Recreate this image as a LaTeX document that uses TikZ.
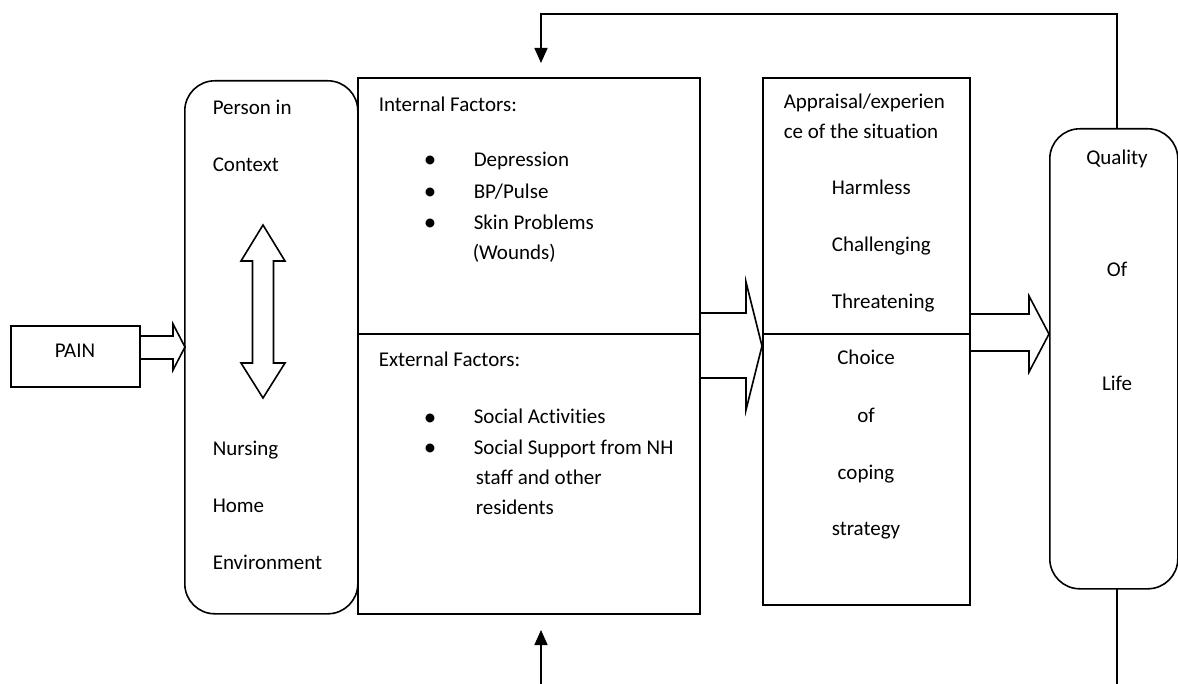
\documentclass[tikz,border=0pt]{standalone}
\usepackage{fontspec}
\setmainfont{Carlito}[Ligatures=CommonOff]
\usetikzlibrary{arrows.meta}
\begin{document}
\begin{tikzpicture}[x=1pt,y=-1pt,line width=1.6pt,
  txt/.style={inner sep=0pt,anchor=base west,font=\fontsize{21}{25}\selectfont},
  ctxt/.style={inner sep=0pt,anchor=base,font=\fontsize{21}{25}\selectfont},
  bul/.style={inner sep=0pt,anchor=base,font=\fontsize{25}{25}\selectfont},
  box/.style={draw,line width=1.6pt,inner sep=0pt,anchor=north west},
  rbox/.style={box,rounded corners=30pt},
  blockarrow/.style={draw,line width=1.6pt,line join=miter},
  feed/.style={line width=1.6pt,-{Triangle[length=15pt,width=13pt]}}]
\useasboundingbox (0,0) rectangle (1178,684);

% boxes
\node[box,minimum width=129pt,minimum height=61pt] (pain) at (10,325) {};
\node[rbox,minimum width=173pt,minimum height=533pt] (person) at (184,80) {};
\node[box,minimum width=342pt,minimum height=536pt] (factors) at (357,77) {};
\node[box,minimum width=207pt,minimum height=527pt] (appraisal) at (762,77) {};
\node[rbox,minimum width=128pt,minimum height=460pt] (quality) at (1049,128) {};

% dividers
\draw (factors.west |- 0,334) -- (factors.east |- 0,334);
\draw (appraisal.west |- 0,334) -- (appraisal.east |- 0,334);

% block arrows
\draw[blockarrow] (139,336) -- (173,336) -- (173,324) -- (185,347) -- (173,370) -- (173,359) -- (139,359);
\draw[blockarrow] (699,313) -- (746,313) -- (746,282) -- (762,346) -- (746,410) -- (746,378) -- (699,378);
\draw[blockarrow] (969,314) -- (1029,314) -- (1029,296) -- (1049,334) -- (1029,372) -- (1029,351) -- (969,351);
\draw[blockarrow] (252.5,261) -- (241,261) -- (263,225) -- (285,261) -- (273.5,261) -- (273.5,363)
  -- (285,363) -- (263,398) -- (241,363) -- (252.5,363) -- cycle;

% feedback connectors
\coordinate (qtop) at (1117,128);
\coordinate (qbot) at (1117,588);
\coordinate (fbtip) at (541,63);
\coordinate (fbtop) at (1117,14);
\coordinate (upstart) at (541,684);
\coordinate (uptip) at (541,630);
\coordinate (botend) at (1117,684);
\draw[feed] (qtop) -- (fbtop) -| (fbtip);
\draw (qbot) -- (botend);
\draw[feed] (upstart) -- (uptip);

% texts
\node[ctxt] (tpain) at (75,358) {PAIN};

\node[txt] (p1) at (212,115) {Person in};
\node[txt] (p2) at (212,172) {Context};
\node[txt] (p3) at (212,455) {Nursing};
\node[txt] (p4) at (212,512) {Home};
\node[txt] (p5) at (212,569) {Environment};

\node[txt] (if) at (378,112) {Internal Factors:};
\node[bul] (b1) at (430,168) {\textbullet};
\node[bul] (b2) at (430,200) {\textbullet};
\node[bul] (b3) at (430,231) {\textbullet};
\node[txt] (i1) at (473,167) {Depression};
\node[txt] (i2) at (473,199) {BP/Pulse};
\node[txt] (i3) at (473,230) {Skin Problems};
\node[txt] (i4) at (472,260) {(Wounds)};

\node[txt] (ef) at (378,367) {External Factors:};
\node[bul] (b4) at (430,425) {\textbullet};
\node[bul] (b5) at (430,455) {\textbullet};
\node[txt] (e1) at (473,424) {Social Activities};
\node[txt] (e2) at (473,454) {Social Support from NH};
\node[txt] (e3) at (475,484) {staff and other};
\node[txt] (e4) at (475,514) {residents};

\node[txt] (a1) at (783,109) {Appraisal/experien};
\node[txt] (a2) at (783,139) {ce of the situation};
\node[txt] (a3) at (831,195) {Harmless};
\node[txt] (a4) at (831,252) {Challenging};
\node[txt] (a5) at (831,309) {Threatening};
\node[ctxt] (c1) at (866,365) {Choice};
\node[ctxt] (c2) at (866,422) {of};
\node[ctxt] (c3) at (866,479) {coping};
\node[ctxt] (c4) at (866,535) {strategy};

\node[ctxt] (q1) at (1117,165) {Quality};
\node[ctxt] (q2) at (1117,277) {Of};
\node[ctxt] (q3) at (1117,391) {Life};
\end{tikzpicture}
\end{document}
